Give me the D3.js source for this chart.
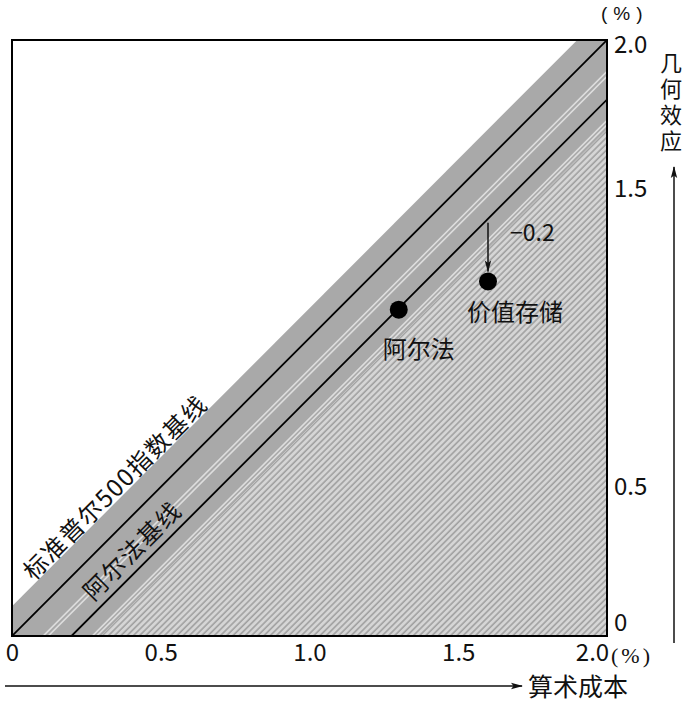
<!DOCTYPE html>
<html>
<head>
<meta charset="utf-8">
<script src="https://cdn.jsdelivr.net/npm/d3@7"></script>
<style>
  body { margin: 0; background: #fff; }
  text { font-family: "Noto Sans CJK SC", "Noto Sans", sans-serif; fill: #111; }
</style>
</head>
<body>
<div id="wrapper"></div>
<script>

// 1. Data
const xTicks = [0, 0.5, 1.0, 1.5, 2.0]
const yTicks = [0, 0.5, 1.5, 2.0]

const baselineNames = ["标准普尔500指数基线", "阿尔法基线"]
const baselineOffsets = [0, -0.2]

const pointNames = ["阿尔法", "价值存储"]
const pointCost = [1.3, 1.6]
const pointEffect = [1.095, 1.19]

const gapLabel = "−0.2"
const xAxisTitle = "算术成本"
const yAxisTitle = "几何效应"
const unitLabel = "(%)"

// shaded band around the baselines, offsets from the y = x line
const bandTop = 0.1
const bandBottom = -0.3
const lightStripeOffsets = [-0.105, -0.122, -0.27, -0.285]

async function drawChart() {

  // 2. Dimensions
  let dimensions = {
    width: 688,
    height: 703,
    margin: { top: 40, right: 81, bottom: 67, left: 12 },
  }
  dimensions.boundedWidth = dimensions.width
    - dimensions.margin.left
    - dimensions.margin.right
  dimensions.boundedHeight = dimensions.height
    - dimensions.margin.top
    - dimensions.margin.bottom

  // 3. Canvas
  const wrapper = d3.select("#wrapper")
    .append("svg")
      .attr("width", dimensions.width)
      .attr("height", dimensions.height)

  const defs = wrapper.append("defs")

  const hatch = defs.append("pattern")
      .attr("id", "hatch")
      .attr("patternUnits", "userSpaceOnUse")
      .attr("width", 4.4)
      .attr("height", 10)
      .attr("patternTransform", "rotate(45)")
  hatch.append("rect")
      .attr("width", 4.4)
      .attr("height", 10)
      .attr("fill", "#d6d6d6")
  hatch.append("line")
      .attr("x1", 1).attr("x2", 1)
      .attr("y1", 0).attr("y2", 10)
      .attr("stroke", "#a0a0a0")
      .attr("stroke-width", 1.6)

  defs.append("clipPath")
      .attr("id", "plot-clip")
    .append("rect")
      .attr("width", dimensions.boundedWidth)
      .attr("height", dimensions.boundedHeight)

  const arrowHead = defs.append("marker")
      .attr("id", "arrow")
      .attr("viewBox", "0 -4 12 8")
      .attr("refX", 11)
      .attr("refY", 0)
      .attr("markerUnits", "userSpaceOnUse")
      .attr("markerWidth", 14)
      .attr("markerHeight", 8)
      .attr("orient", "auto")
  arrowHead.append("path")
      .attr("d", "M0,-3.2L12,0L0,3.2L2.5,0Z")
      .attr("fill", "#111")

  const bounds = wrapper.append("g")
      .style("transform", `translate(${
        dimensions.margin.left
      }px, ${
        dimensions.margin.top
      }px)`)

  // 4. Scales
  const xScale = d3.scaleLinear()
    .domain([0, 2])
    .range([0, dimensions.boundedWidth])

  const yScale = d3.scaleLinear()
    .domain([0, 2])
    .range([dimensions.boundedHeight, 0])

  const diagonal = offset => [[-1, -1 + offset], [3, 3 + offset]]
  const diagLine = d3.line()
    .x(d => xScale(d[0]))
    .y(d => yScale(d[1]))
  const bandPath = (top, bottom) => diagLine([
    ...diagonal(top),
    ...diagonal(bottom).reverse(),
  ]) + "Z"

  // 5. Draw data
  const plot = bounds.append("g")
      .attr("clip-path", "url(#plot-clip)")

  plot.append("rect")
      .attr("width", dimensions.boundedWidth)
      .attr("height", dimensions.boundedHeight)
      .attr("fill", "#fff")

  plot.append("path")
      .attr("d", bandPath(bandTop, bandBottom))
      .attr("fill", "#a9a9a9")

  plot.append("path")
      .attr("d", bandPath(bandBottom, -5))
      .attr("fill", "url(#hatch)")

  plot.selectAll(".light-stripe")
    .data(lightStripeOffsets)
    .join("path")
      .attr("class", "light-stripe")
      .attr("d", d => diagLine(diagonal(d)))
      .attr("stroke", "#dedede")
      .attr("stroke-width", 1.6)
      .attr("fill", "none")

  plot.selectAll(".baseline")
    .data(baselineOffsets)
    .join("line")
      .attr("class", "baseline")
      .attr("x1", d => xScale(Math.max(0, -d)))
      .attr("y1", d => yScale(Math.max(0, -d) + d))
      .attr("x2", d => xScale(Math.min(2, 2 - d)))
      .attr("y2", d => yScale(Math.min(2, 2 - d) + d))
      .attr("stroke", "#000")
      .attr("stroke-width", 1.8)

  // baseline labels, rotated along the diagonal
  const angle = Math.atan2(
    yScale(1) - yScale(0), xScale(1) - xScale(0)
  ) * 180 / Math.PI
  const labelSpots = [[0.343, 0.16], [0.40, -0.11]]
  bounds.selectAll(".baseline-label")
    .data(baselineNames)
    .join("text")
      .attr("class", "baseline-label")
      .attr("transform", (d, i) => `translate(${
        xScale(labelSpots[i][0])
      }, ${
        yScale(labelSpots[i][0] + labelSpots[i][1])
      }) rotate(${angle})`)
      .attr("text-anchor", "middle")
      .attr("dominant-baseline", "central")
      .style("font-size", "24px")
      .style("letter-spacing", "1.5px")
      .text(d => d)

  // the -0.2 gap arrow above the value-store point
  const gapX = pointCost[1]
  bounds.append("line")
      .attr("x1", xScale(gapX))
      .attr("x2", xScale(gapX))
      .attr("y1", yScale(gapX + baselineOffsets[1]) + 4)
      .attr("y2", yScale(pointEffect[1]) - 10)
      .attr("stroke", "#111")
      .attr("stroke-width", 1.5)
      .attr("marker-end", "url(#arrow)")

  bounds.append("text")
      .attr("x", xScale(gapX) + 22)
      .attr("y", yScale(gapX + baselineOffsets[1]) + 22)
      .style("font-size", "23px")
      .text(gapLabel)

  const pointData = pointNames.map((name, i) => ({
    name, x: pointCost[i], y: pointEffect[i],
  }))

  bounds.selectAll(".point")
    .data(pointData)
    .join("circle")
      .attr("class", "point")
      .attr("cx", d => xScale(d.x))
      .attr("cy", d => yScale(d.y))
      .attr("r", 9)
      .attr("fill", "#000")

  bounds.selectAll(".point-label")
    .data(pointData)
    .join("text")
      .attr("class", "point-label")
      .attr("x", (d, i) => xScale(d.x) + [20, 27][i])
      .attr("y", (d, i) => yScale(d.y) + [48, 40][i])
      .attr("text-anchor", "middle")
      .style("font-size", "24px")
      .text(d => d.name)

  // 6. Peripherals
  bounds.append("rect")
      .attr("width", dimensions.boundedWidth)
      .attr("height", dimensions.boundedHeight)
      .attr("fill", "none")
      .attr("stroke", "#000")
      .attr("stroke-width", 2)

  const tickFormat = d => d === 0 ? "0" : d3.format(".1f")(d)

  const xAxis = bounds.append("g")
      .attr("transform", `translate(0, ${dimensions.boundedHeight})`)
      .call(d3.axisBottom(xScale)
        .tickValues(xTicks)
        .tickSize(0)
        .tickPadding(8)
        .tickFormat(tickFormat))
  xAxis.select(".domain").remove()
  xAxis.selectAll("text")
      .attr("fill", "#111")
      .style("font-size", "24px")
      .style("font-family", "'Noto Sans CJK SC', sans-serif")
      .attr("dx", d => d === 2 ? -15 : 0)

  xAxis.append("text")
      .attr("x", dimensions.boundedWidth + 4)
      .attr("y", 27)
      .attr("text-anchor", "start")
      .style("font-size", "22px")
      .style("letter-spacing", "3px")
      .style("font-family", "'Liberation Serif', serif")
      .text(unitLabel)

  const yAxis = bounds.append("g")
      .attr("transform", `translate(${dimensions.boundedWidth}, 0)`)
      .call(d3.axisRight(yScale)
        .tickValues(yTicks)
        .tickSize(0)
        .tickPadding(7)
        .tickFormat(tickFormat))
  yAxis.select(".domain").remove()
  yAxis.selectAll("text")
      .attr("fill", "#111")
      .style("font-size", "24px")
      .style("font-family", "'Noto Sans CJK SC', sans-serif")
      .attr("dy", d => d === 0 ? "-0.25em" : d === 2 ? "0.5em" : "0.32em")

  yAxis.append("text")
      .attr("x", -6)
      .attr("y", -20)
      .attr("text-anchor", "start")
      .style("font-size", "19px")
      .style("font-family", "'Liberation Sans', sans-serif")
      .style("letter-spacing", "6px")
      .text(unitLabel)

  // axis titles with arrows
  wrapper.append("line")
      .attr("x1", 5)
      .attr("x2", 522)
      .attr("y1", 686)
      .attr("y2", 686)
      .attr("stroke", "#111")
      .attr("stroke-width", 1.5)
      .attr("marker-end", "url(#arrow)")

  wrapper.append("text")
      .attr("x", 528)
      .attr("y", 696)
      .style("font-size", "25px")
      .text(xAxisTitle)

  wrapper.append("line")
      .attr("x1", 674)
      .attr("x2", 674)
      .attr("y1", 643)
      .attr("y2", 167)
      .attr("stroke", "#111")
      .attr("stroke-width", 1.5)
      .attr("marker-end", "url(#arrow)")

  // vertical title, upright characters
  wrapper.append("text")
      .attr("x", 671)
      .attr("y", 52)
      .style("writing-mode", "vertical-rl")
      .style("text-orientation", "upright")
      .style("font-size", "22px")
      .style("letter-spacing", "4px")
      .text(yAxisTitle)

}
drawChart()
</script>
</body>
</html>
